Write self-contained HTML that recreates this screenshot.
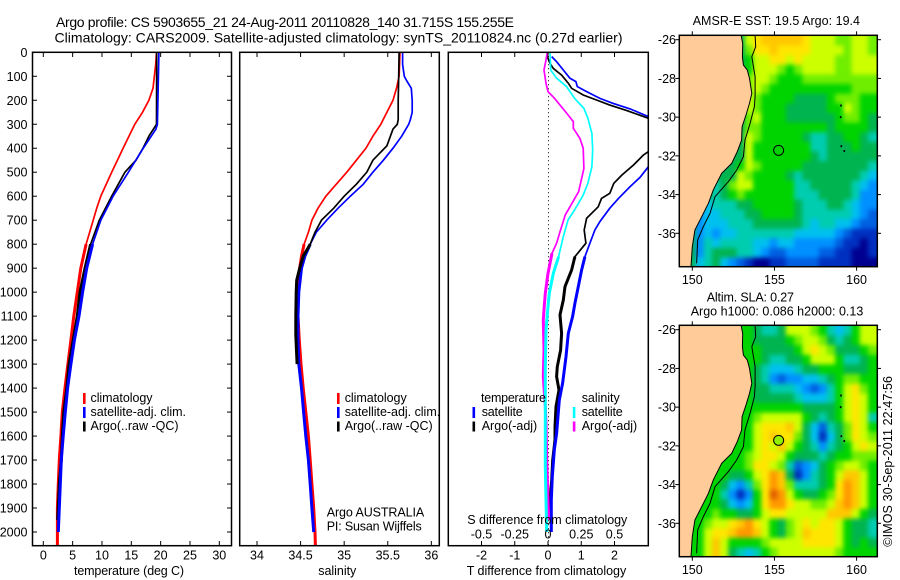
<!DOCTYPE html>
<html>
<head>
<meta charset="utf-8">
<title>Argo profile</title>
<style>
html,body{margin:0;padding:0;background:#fff;width:900px;height:580px;overflow:hidden}
svg{display:block}
text{font-family:"Liberation Sans",sans-serif;font-size:12.5px;fill:#000}
.title{font-size:14px}
.frame{fill:none;stroke:#000;stroke-width:1.5}
</style>
</head>
<body>
<svg id="chart" xmlns="http://www.w3.org/2000/svg" width="900" height="580" viewBox="0 0 900 580">
<defs>
<clipPath id="clip-t"><rect x="32.5" y="52.3" width="199" height="493.4"/></clipPath>
<clipPath id="clip-s"><rect x="239.7" y="52.3" width="199.6" height="493.4"/></clipPath>
<clipPath id="clip-d"><rect x="448.3" y="52.3" width="200" height="493.4"/></clipPath>
<clipPath id="clip-m1"><rect x="679.3" y="35.3" width="198" height="231.4"/></clipPath>
<clipPath id="clip-m2"><rect x="679.3" y="325.3" width="198" height="231.4"/></clipPath>
<filter id="soften" filterUnits="userSpaceOnUse" x="640" y="0" width="260" height="580" color-interpolation-filters="sRGB"><feGaussianBlur stdDeviation="2.4"/></filter>
</defs>

<text class="title" x="56" y="27" textLength="458" lengthAdjust="spacing">Argo profile: CS 5903655_21 24-Aug-2011 20110828_140 31.715S 155.255E</text>
<text class="title" x="54.5" y="42.3" textLength="568" lengthAdjust="spacing">Climatology: CARS2009. Satellite-adjusted climatology: synTS_20110824.nc (0.27d earlier)</text>

<g id="temp-series"></g>
<g id="sal-series"></g>
<line x1="548.5" x2="548.5" y1="52.3" y2="545.7" stroke="#000" stroke-width="1" stroke-dasharray="1 3"/>
<g id="diff-series"></g>

<rect class="frame" x="32.5" y="52.3" width="199" height="493.4"/>
<rect class="frame" x="239.7" y="52.3" width="199.6" height="493.4"/>
<rect class="frame" x="448.3" y="52.3" width="200" height="493.4"/>
<g id="axes"></g>

<text x="74" y="575" textLength="110" lengthAdjust="spacing">temperature (deg C)</text>
<text x="318.3" y="575" textLength="38" lengthAdjust="spacing">salinity</text>
<text x="466.7" y="575" textLength="159.5" lengthAdjust="spacing">T difference from climatology</text>
<text x="467.3" y="524" textLength="160" lengthAdjust="spacing">S difference from climatology</text>

<g>
<rect x="83" y="393" width="2.6" height="11" fill="#f00"/>
<rect x="83" y="407" width="2.6" height="11" fill="#00f"/>
<rect x="83" y="421.5" width="2.6" height="10" fill="#000"/>
<text x="90.5" y="402" textLength="62" lengthAdjust="spacing">climatology</text>
<text x="90.5" y="416" textLength="95.5" lengthAdjust="spacing">satellite-adj. clim.</text>
<text x="90.5" y="430" textLength="88" lengthAdjust="spacing">Argo(..raw -QC)</text>
</g>
<g>
<rect x="337" y="393" width="2.6" height="11" fill="#f00"/>
<rect x="337" y="407" width="2.6" height="11" fill="#00f"/>
<rect x="337" y="421.5" width="2.6" height="10" fill="#000"/>
<text x="344.7" y="402" textLength="62" lengthAdjust="spacing">climatology</text>
<text x="344.7" y="416" textLength="95.5" lengthAdjust="spacing">satellite-adj. clim.</text>
<text x="344.7" y="430" textLength="88" lengthAdjust="spacing">Argo(..raw -QC)</text>
<text x="326.7" y="516.7" textLength="97.5" lengthAdjust="spacing">Argo AUSTRALIA</text>
<text x="326.7" y="530.7" textLength="95" lengthAdjust="spacing">PI: Susan Wijffels</text>
</g>
<g>
<text x="481" y="402" textLength="65" lengthAdjust="spacing">temperature</text>
<rect x="472.5" y="407" width="2.6" height="11" fill="#00f"/>
<rect x="472.5" y="421.5" width="2.6" height="10" fill="#000"/>
<text x="481.7" y="416" textLength="41" lengthAdjust="spacing">satellite</text>
<text x="481.7" y="430" textLength="55.5" lengthAdjust="spacing">Argo(-adj)</text>
<text x="581.7" y="402" textLength="38" lengthAdjust="spacing">salinity</text>
<rect x="572.8" y="407" width="2.6" height="11" fill="#0ff"/>
<rect x="572.8" y="421.5" width="2.6" height="10" fill="#f0f"/>
<text x="581.7" y="416" textLength="41" lengthAdjust="spacing">satellite</text>
<text x="581.7" y="430" textLength="55.5" lengthAdjust="spacing">Argo(-adj)</text>
</g>

<text x="692.7" y="25" textLength="167.3" lengthAdjust="spacing">AMSR-E SST: 19.5 Argo: 19.4</text>
<text x="706.7" y="301.3" textLength="87.3" lengthAdjust="spacing">Altim. SLA: 0.27</text>
<text x="690.7" y="315.3" textLength="172.6" lengthAdjust="spacing">Argo h1000: 0.086 h2000: 0.13</text>
<g id="map1"></g>
<g id="map2"></g>
<text transform="translate(892,546.7) rotate(-90)" x="0" y="0" textLength="170.7" lengthAdjust="spacing">©IMOS 30-Sep-2011 22:47:56</text>
</svg>

<script>
// ---------- temperature profile values ----------
const tempClimDepth = [0,50,150,200,250,300,400,500,600,650,700,800,900,1000,1100,1200,1300,1400,1500,1600,1700,1800,1900,2000,2057];
const tempClimValue = [19.3,19.15,18.7,18.0,16.9,15.6,13.6,11.65,9.8,9.1,8.5,7.3,6.4,5.8,5.2,4.7,4.2,3.7,3.24,3.0,2.73,2.56,2.4,2.4,2.4];
const tempSatDepth = [0,300,320,400,500,600,700,800,900,1000,1100,1200,1300,1400,1500,1600,1700,1800,1900,2000];
const tempSatValue = [19.7,19.45,19.2,17.05,14.5,11.9,9.8,8.4,7.4,6.7,6.08,5.3,4.7,4.15,3.75,3.4,3.07,2.9,2.73,2.56];
const tempArgoDepth = [0,300,350,400,450,500,600,700,800,900,1000,1100,1200,1300,1400,1500,1600,1700,1800,1900,1950];
const tempArgoValue = [19.33,19.3,18.0,17.0,15.8,13.9,11.65,9.55,8.07,7.1,6.25,5.8,5.1,4.4,4.0,3.5,3.24,3.07,2.73,2.56,2.45];
// ---------- salinity profile values ----------
const salClimDepth = [0,100,150,200,250,300,350,400,450,500,550,600,650,700,750,800,850,900,1000,1100,1200,1300,1400,1500,1600,1700,1800,1900,2000,2057];
const salClimValue = [35.64,35.63,35.6,35.56,35.49,35.42,35.33,35.25,35.14,35.03,34.91,34.79,34.7,34.63,34.59,34.54,34.51,34.49,34.47,34.47,34.485,34.505,34.53,34.56,34.59,34.61,34.63,34.65,34.665,34.67];
const salSatDepth = [0,50,100,120,150,200,250,280,300,350,400,450,500,550,600,650,700,750,800,850,900,1000,1100,1200,1300,1400,1500,1600,1700,1800,1900,2000];
const salSatValue = [35.67,35.67,35.69,35.72,35.77,35.78,35.78,35.76,35.74,35.66,35.56,35.45,35.33,35.22,35.07,34.93,34.8,34.68,34.61,34.55,34.51,34.48,34.47,34.47,34.48,34.51,34.535,34.56,34.59,34.61,34.63,34.65];
const salArgoDepth = [0,100,200,280,300,320,350,390,450,500,550,600,650,700,750,800,850,900,950,1000,1100,1180,1300];
const salArgoValue = [35.63,35.625,35.62,35.62,35.61,35.56,35.53,35.49,35.33,35.26,35.14,35.0,34.88,34.74,34.665,34.61,34.53,34.49,34.455,34.45,34.445,34.445,34.46];
// ---------- differences from climatology ----------
const dtSatDepth = [18,39,74,108,122,143,164,192,213,236,268,300,350,400,477,521,560,609,650,706,741,796,852,908,977,1047,1102,1172,1269,1380,1450,1589,1658,1769,1867,2000];
const dtSatValue = [0.11,0.26,0.46,0.66,0.84,0.88,1.16,1.56,1.96,2.47,3.02,3.85,4.0,3.45,3.02,2.77,2.47,2.12,1.86,1.56,1.41,1.26,1.11,1.01,0.91,0.81,0.74,0.61,0.54,0.44,0.34,0.26,0.19,0.13,0.1,0.1];
const dtArgoDepth = [18,46,67,95,129,150,178,199,220,243,275,300,350,400,414,428,470,512,546,588,609,644,692,741,796,852,908,977,1033,1095,1172,1241,1311,1352,1408,1477,1561,1616,1700,1783,1867,1950];
const dtArgoValue = [-0.02,0.06,0.16,0.41,0.61,0.71,1.06,1.46,1.86,2.37,3.02,3.7,4.0,3.2,3.02,2.87,2.57,2.22,1.98,1.86,1.61,1.51,1.16,1.09,1.14,0.81,0.71,0.51,0.46,0.36,0.41,0.38,0.28,0.26,0.33,0.24,0.21,0.21,0.14,0.11,0.06,0.04];
const dsSatDepth = [0,74,108,143,192,234,275,338,407,477,546,595,657,699,769,852,922,1005,1060,1158,1311,1728,1867,2000];
const dsSatValue = [0.015,0.02,0.065,0.14,0.2,0.27,0.3,0.33,0.336,0.33,0.3,0.265,0.2,0.15,0.115,0.08,0.04,0.01,0,-0.015,-0.02,-0.02,-0.015,-0.01];
const dsArgoDepth = [0,32,74,129,164,192,247,289,317,359,400,484,532,581,630,678,748,796,838,922,1005,1073,1116,1241,1352,1477,1547,1700,1867,1950];
const dsArgoValue = [-0.005,-0.015,-0.03,-0.015,0,0.05,0.13,0.19,0.19,0.24,0.265,0.27,0.25,0.23,0.18,0.13,0.09,0.065,0.03,0,-0.02,-0.03,-0.035,-0.03,-0.035,-0.02,-0.015,-0.01,0,0.005];
// ---------- tick labels ----------
const depthTicks = [0,100,200,300,400,500,600,700,800,900,1000,1100,1200,1300,1400,1500,1600,1700,1800,1900,2000];
const tempTicks = [0,5,10,15,20,25,30];
const salTicks = [34,34.5,35,35.5,36];
const dtTicks = [-2,-1,0,1,2];
const dsTicks = [-0.5,-0.25,0,0.25,0.5];
const lonTicks = [150,155,160];
const latTicks = [26,28,30,32,34,36];
// ---------- map grids: colour-class of each half-degree cell, north to south ----------
const mapColors = ['#000090','#0030c0','#0060e0','#0090ff','#00c0f0','#00ccb0','#00b450','#00d400','#70ee00','#ccff00','#ffe600','#ffc800','#ff9800','#e06000'];
const sstCells = [
[6,6,6,6,6,6,6,6,9,10,11,11,11,11,11,10,9,9,9,8,8,9,9,8],
[6,6,6,6,6,6,6,6,8,10,10,11,10,10,10,10,9,9,9,9,8,9,9,8],
[6,6,6,6,6,6,6,6,7,9,9,10,10,9,10,9,9,9,9,8,8,9,9,9],
[6,6,6,6,6,6,6,6,7,9,9,9,8,7,8,9,9,9,9,8,8,9,9,9],
[6,6,6,6,6,6,6,6,8,9,9,8,7,7,7,8,8,8,8,8,8,8,8,8],
[6,6,6,6,6,6,6,6,8,9,8,7,7,7,7,7,7,7,7,7,7,8,8,8],
[6,6,6,6,6,6,6,6,9,8,7,7,7,7,6,6,6,6,7,8,8,8,7,7],
[6,6,6,6,6,6,6,6,9,8,7,7,7,6,6,6,6,6,7,7,9,8,7,7],
[6,6,6,6,6,6,6,6,8,9,7,7,7,6,6,6,6,6,6,7,8,8,7,6],
[6,6,6,6,6,6,6,6,8,8,7,7,7,7,7,7,7,7,6,7,7,7,7,6],
[6,6,6,6,6,6,6,6,9,8,7,7,7,7,7,6,5,5,6,6,7,7,6,5],
[6,6,6,6,6,6,6,6,9,7,7,7,7,7,7,7,5,5,6,6,6,7,6,6],
[6,6,6,6,6,6,6,6,9,7,7,7,7,7,7,7,6,5,6,6,6,6,6,6],
[6,6,6,6,6,6,6,7,9,8,7,7,7,7,7,6,6,6,6,6,6,6,6,5],
[6,6,6,6,6,6,6,9,8,7,7,7,7,6,5,6,6,6,6,6,6,6,5,4],
[6,6,6,6,5,6,8,9,9,7,7,7,7,7,5,5,6,6,6,6,6,5,4,3],
[6,6,6,6,5,6,7,8,7,7,7,7,7,7,5,5,5,6,6,6,6,5,3,3],
[6,6,6,4,5,5,5,6,6,7,7,7,7,7,6,5,5,5,6,6,5,4,3,3],
[6,6,3,4,4,5,5,5,6,6,7,7,7,7,6,5,5,5,5,5,5,4,3,2],
[6,6,3,4,4,4,5,5,5,6,6,6,6,6,6,5,4,5,5,4,4,3,2,2],
[6,6,3,4,3,4,4,5,5,5,5,5,5,5,4,4,4,4,4,3,2,1,1,1],
[6,6,3,5,4,5,5,5,5,4,4,3,4,4,3,3,3,3,3,2,1,1,0,1],
[6,6,3,5,6,6,6,5,5,4,3,2,2,3,3,3,3,2,2,1,1,0,0,1],
[6,6,4,5,6,4,3,2,1,0,0,1,1,2,2,2,2,1,1,1,1,0,0,0]
];
const slaCells = [
[7,7,7,7,7,7,7,7,7,6,5,5,6,9,9,9,8,7,5,4,5,7,9,9],
[7,7,7,7,7,7,7,7,7,6,6,6,6,7,8,9,9,8,6,5,6,7,9,9],
[7,7,7,7,7,7,7,7,7,7,6,6,6,6,7,9,10,9,8,6,6,6,7,8],
[7,7,7,7,7,7,7,7,7,7,6,5,5,6,6,7,9,9,9,7,5,5,6,7],
[7,7,7,7,7,7,7,7,7,6,5,4,4,4,5,6,6,7,7,7,6,6,6,7],
[7,7,7,7,7,7,7,7,7,6,5,3,2,3,3,4,4,5,6,7,8,8,7,7],
[7,7,7,7,7,7,7,7,7,6,6,5,5,5,4,3,2,3,5,7,9,10,8,7],
[7,7,7,7,7,7,7,7,7,6,6,6,6,6,5,4,4,4,5,7,9,10,9,7],
[7,7,7,7,7,7,7,7,7,7,7,7,7,7,7,6,6,6,6,7,9,10,9,7],
[7,7,7,7,7,7,7,7,7,8,9,9,9,9,9,7,6,5,6,7,9,10,9,5],
[7,7,7,7,7,7,7,7,7,9,10,10,10,11,9,6,4,2,5,6,8,10,9,7],
[7,7,7,7,7,7,7,7,7,9,10,11,10,10,8,6,4,1,4,6,8,10,9,8],
[7,7,7,7,7,7,7,7,7,9,10,9,11,9,7,6,5,3,5,6,7,9,10,9],
[7,7,7,7,7,7,7,7,8,9,10,10,9,7,6,6,6,5,6,7,7,8,8,8],
[7,7,7,7,7,7,7,7,8,10,10,9,8,5,2,3,4,6,7,8,9,9,8,7],
[7,7,7,7,7,7,6,6,7,9,10,12,11,6,1,3,5,6,7,9,11,11,9,7],
[7,7,7,7,7,6,4,3,5,8,10,12,11,8,5,5,5,6,7,10,12,11,9,7],
[7,7,7,7,7,5,3,1,3,7,10,13,12,9,7,6,6,7,8,10,12,11,9,7],
[7,7,7,7,7,6,4,3,4,7,10,12,12,10,9,9,8,8,9,11,12,11,9,7],
[7,7,7,7,8,7,7,6,6,7,9,10,10,9,9,9,9,9,11,11,11,9,7,6],
[7,7,7,8,9,9,10,11,12,10,9,7,6,8,9,10,9,10,10,9,7,6,6,5],
[7,7,7,9,10,10,11,12,12,11,9,7,6,8,9,11,10,10,10,9,7,6,6,5],
[7,7,7,9,11,9,7,7,7,7,8,9,9,9,9,10,10,10,10,9,7,6,7,6],
[7,7,7,9,11,9,6,5,4,5,7,8,9,9,9,9,9,9,9,8,7,7,7,7]
];
// ---------- coast, shelf edge and markers (degrees E / degrees S) ----------
const coastLon = [152.97,153.07,153.05,153.11,153.35,153.48,153.62,153.48,153.27,153.03,153.0,152.74,152.4,151.79,151.28,150.98,150.57,150.16,150.0,149.92];
const coastLat = [25.78,26.19,26.88,27.31,27.57,28.0,28.77,29.29,29.89,30.49,31.18,31.78,32.39,32.9,33.76,34.45,35.14,35.83,36.69,37.72];
const shelfLon = [153.82,153.86,153.62,153.82,153.82,153.78,153.52,153.21,153.11,152.7,152.2,151.38,151.08,150.67,150.33,150.26];
const shelfLat = [25.78,26.36,26.88,27.91,28.94,29.46,30.32,31.18,32.04,32.73,33.33,34.11,34.97,35.66,36.34,37.55];
const islandLon = [159.05,159.03,159.07,159.25];
const islandLat = [29.4,30.0,31.5,31.75];
const argoLon = [155.255];
const argoLat = [31.715];

// ---------- axis functions ----------
const NS = 'http://www.w3.org/2000/svg';
function yDepth(d){ return 52.3 + d * 0.23985; }
function xTemp(t){ return 43.3 + t * 5.867; }
function xSal(s){ return 257 + (s - 34) * 87.17; }
function xDT(t){ return 548 + t * 33.25; }
function xDS(s){ return 548 + s * 133; }
function xLon(lon){ return 692.3 + (lon - 150) * 16.43; }
function yLat(lat, top){ return top + 4.4 + (lat - 26) * 19.36; }
function mk(tag, attrs, parent){
  const n = document.createElementNS(NS, tag);
  for (const k in attrs) n.setAttribute(k, attrs[k]);
  parent.appendChild(n);
  return n;
}

function drawProfile(parent, depths, values, xFn, color, clip, name){
  const all = depths.map((d, i) => xFn(values[i]).toFixed(1) + ',' + yDepth(d).toFixed(1)).join(' ');
  const line = mk('polyline', {points: all, fill: 'none', stroke: color, 'stroke-width': 1.7, 'clip-path': 'url(#' + clip + ')'}, parent);
  
  
  const deep = depths.map((d, i) => d >= 800 ? xFn(values[i]).toFixed(1) + ',' + yDepth(d).toFixed(1) : null).filter(Boolean).join(' ');
  const thick = mk('polyline', {points: deep, fill: 'none', stroke: color, 'stroke-width': 3, 'clip-path': 'url(#' + clip + ')'}, parent);
  
  
}

const tg = document.getElementById('temp-series');
drawProfile(tg, tempClimDepth, tempClimValue, xTemp, '#f00', 'clip-t', 'temperature-climatology-line');
drawProfile(tg, tempArgoDepth, tempArgoValue, xTemp, '#000', 'clip-t', 'temperature-argo-line');
drawProfile(tg, tempSatDepth, tempSatValue, xTemp, '#00f', 'clip-t', 'temperature-satellite-line');
const sg = document.getElementById('sal-series');
drawProfile(sg, salClimDepth, salClimValue, xSal, '#f00', 'clip-s', 'salinity-climatology-line');
drawProfile(sg, salSatDepth, salSatValue, xSal, '#00f', 'clip-s', 'salinity-satellite-line');
drawProfile(sg, salArgoDepth, salArgoValue, xSal, '#000', 'clip-s', 'salinity-argo-line');
const dg = document.getElementById('diff-series');
drawProfile(dg, dtArgoDepth, dtArgoValue, xDT, '#000', 'clip-d', 't-difference-argo-line');
drawProfile(dg, dtSatDepth, dtSatValue, xDT, '#00f', 'clip-d', 't-difference-satellite-line');
drawProfile(dg, dsArgoDepth, dsArgoValue, xDS, '#f0f', 'clip-d', 's-difference-argo-line');
drawProfile(dg, dsSatDepth, dsSatValue, xDS, '#0ff', 'clip-d', 's-difference-satellite-line');

// ---------- profile axes ----------
const ag = document.getElementById('axes');
depthTicks.forEach(d => {
  const label = mk('text', {x: 27.5, y: yDepth(d) + 4.5, 'text-anchor': 'end'}, ag);
  
  
  label.textContent = d;
  [[32.5, 37], [231.5, 227]].forEach(p => {
    const t = mk('line', {x1: p[0], x2: p[1], y1: yDepth(d), y2: yDepth(d), stroke: '#000', 'stroke-width': 1}, ag);
    
    
  });
});
function xAxis(ticks, xFn, labelY, name, withTicks){
  ticks.forEach(v => {
    const label = mk('text', {x: xFn(v), y: labelY, 'text-anchor': 'middle'}, ag);
    
    
    label.textContent = v;
    if (withTicks) {
      [[52.3, 57], [545.7, 541]].forEach(p => {
        const t = mk('line', {x1: xFn(v), x2: xFn(v), y1: p[0], y2: p[1], stroke: '#000', 'stroke-width': 1}, ag);
        
        
      });
    }
  });
}
xAxis(tempTicks, xTemp, 559.3, 'temperature', true);
xAxis(salTicks, xSal, 559.3, 'salinity', true);
xAxis(dtTicks, xDT, 559.3, 't-difference', true);
xAxis(dsTicks, xDS, 538.7, 's-difference', false);

// ---------- maps ----------
function drawMap(parent, cells, top, clip, prefix, filled){
  const clipGroup = mk('g', {'clip-path': 'url(#' + clip + ')'}, parent);
  
  
  const cellGroup = mk('g', {filter: 'url(#soften)'}, clipGroup);
  
  
  cells.forEach((row, r) => {
    row.forEach((v, c) => {
      const lon0 = 149.19 + c * 0.5;
      const lat0 = 25.8 + r * 0.498;
      const bleedL = c === 0 ? 10 : 0;
      const bleedR = c === row.length - 1 ? 10 : 0;
      const bleedT = r === 0 ? 10 : 0;
      const bleedB = r === cells.length - 1 ? 10 : 0;
      const cell = mk('rect', {x: xLon(lon0) - bleedL, y: yLat(lat0, top) - bleedT, width: 8.7 + bleedL + bleedR, height: 10.1 + bleedT + bleedB, fill: mapColors[v]}, cellGroup);
      
      
    });
  });
  const landPts = coastLon.map((lon, i) => xLon(lon).toFixed(1) + ',' + yLat(coastLat[i], top).toFixed(1));
  landPts.push('670,' + yLat(37.72, top).toFixed(1));
  landPts.push('670,' + yLat(25.78, top).toFixed(1));
  const land = mk('polygon', {points: landPts.join(' '), fill: '#ffcc99', stroke: '#000', 'stroke-width': 1, 'clip-path': 'url(#' + clip + ')'}, parent);
  
  
  const shelf = mk('polyline', {points: shelfLon.map((lon, i) => xLon(lon).toFixed(1) + ',' + yLat(shelfLat[i], top).toFixed(1)).join(' '), fill: 'none', stroke: '#000', 'stroke-width': 1, 'clip-path': 'url(#' + clip + ')'}, parent);
  
  
  islandLon.forEach((lon, i) => {
    const isle = mk('rect', {x: xLon(lon) - 0.8, y: yLat(islandLat[i], top) - 1, width: 1.6, height: 2, fill: '#000'}, parent);
    
    
  });
  const marker = mk('circle', {cx: xLon(argoLon[0]), cy: yLat(argoLat[0], top), r: 5, fill: filled, stroke: '#000', 'stroke-width': 1}, parent);
  
  
  const frame = mk('rect', {x: 679.3, y: top, width: 198, height: 231.4, fill: 'none', stroke: '#000', 'stroke-width': 1.5}, parent);
  
  
  lonTicks.forEach(lon => {
    [[top, top - 4], [top + 231.4, top + 235.4]].forEach(p => {
      const t = mk('line', {x1: xLon(lon), x2: xLon(lon), y1: p[0], y2: p[1], stroke: '#000', 'stroke-width': 1}, parent);
      
      
    });
    const label = mk('text', {x: xLon(lon), y: top + 248.7, 'text-anchor': 'middle'}, parent);
    
    
    label.textContent = lon;
  });
  latTicks.forEach(lat => {
    [[679.3, 675.3], [877.3, 881]].forEach(p => {
      const t = mk('line', {x1: p[0], x2: p[1], y1: yLat(lat, top), y2: yLat(lat, top), stroke: '#000', 'stroke-width': 1}, parent);
      
      
    });
    const label = mk('text', {x: 676, y: yLat(lat, top) + 4.5, 'text-anchor': 'end'}, parent);
    
    
    label.textContent = '-' + lat;
  });
}
drawMap(document.getElementById('map1'), sstCells, 35.3, 'clip-m1', 'sst-map', 'none');
drawMap(document.getElementById('map2'), slaCells, 325.3, 'clip-m2', 'sla-map', '#90f000');
</script>
</body>
</html>
